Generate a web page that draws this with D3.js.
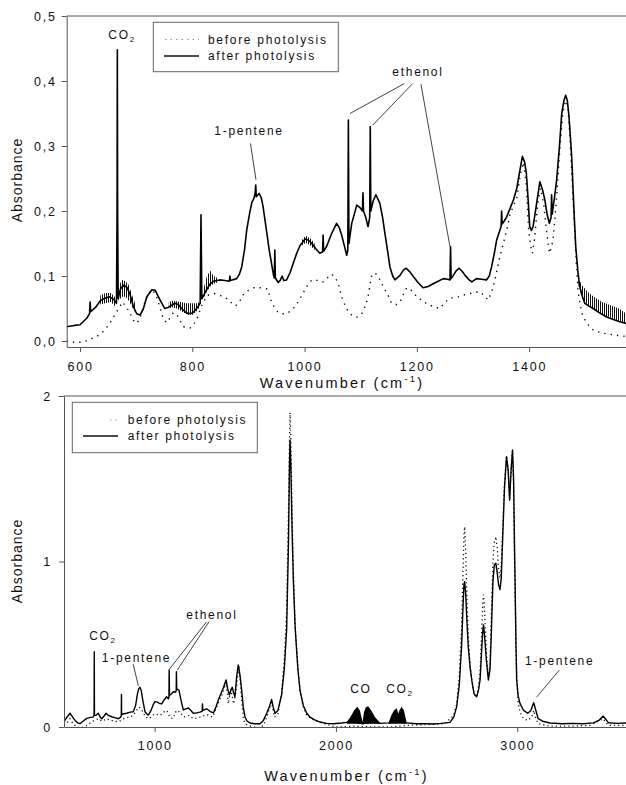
<!DOCTYPE html>
<html>
<head>
<meta charset="utf-8">
<script src="https://cdn.jsdelivr.net/npm/d3@7"></script>
<style>
  body { margin: 0; background: #fff; }
  svg text { font-family: "Liberation Sans", Arial, sans-serif; fill: #111; }
</style>
</head>
<body>
<svg id="canvas" width="626" height="785"></svg>
<script>
// ---- top panel (600-1570 cm-1) ----
const topTicksX = [600, 800, 1000, 1200, 1400];
const topTicksY = [0, 0.1, 0.2, 0.3, 0.4, 0.5];

// after photolysis [wavenumber, absorbance]
const topAfter = [[576,0.022],[590,0.024],[600,0.025],[612,0.035],[617,0.042],[618,0.06],[619,0.045],[628,0.052],[636,0.062],[645,0.066],[653,0.068],[660,0.064],[665,0.058],[666,0.2],[666.5,0.448],[667,0.2],[668,0.065],[672,0.08],[678,0.086],[684,0.082],[689,0.072],[695,0.053],[701,0.042],[707,0.04],[713,0.05],[719,0.068],[728,0.079],[734,0.078],[742,0.064],[751,0.05],[758,0.052],[763,0.055],[769,0.058],[775,0.056],[781,0.05],[787,0.045],[793,0.042],[800,0.043],[805,0.047],[811,0.054],[814,0.058],[815.5,0.194],[817,0.065],[823,0.075],[831,0.087],[838,0.092],[844,0.093],[849,0.094],[858,0.093],[866,0.092],[867,0.1],[868,0.093],[879,0.096],[884,0.103],[888,0.114],[893,0.14],[897,0.171],[902,0.196],[906,0.213],[910,0.22],[912,0.228],[913,0.24],[914,0.222],[919,0.227],[923,0.22],[926,0.207],[932,0.171],[937,0.14],[941,0.12],[945,0.1],[946,0.097],[947,0.14],[948,0.097],[953,0.09],[957,0.094],[960,0.1],[963,0.093],[968,0.094],[974,0.105],[980,0.12],[986,0.135],[992,0.147],[1001,0.157],[1007,0.155],[1013,0.15],[1020,0.142],[1027,0.135],[1032,0.137],[1033,0.163],[1034,0.138],[1039,0.145],[1048,0.165],[1057,0.181],[1062,0.174],[1066,0.163],[1071,0.146],[1075,0.132],[1077,0.14],[1078,0.34],[1079,0.15],[1084,0.181],[1093,0.209],[1099,0.205],[1103,0.2],[1104,0.228],[1105,0.2],[1109,0.19],[1113,0.176],[1116,0.19],[1117,0.33],[1118,0.2],[1122,0.215],[1127,0.225],[1134,0.212],[1139,0.19],[1143,0.166],[1148,0.138],[1152,0.114],[1157,0.1],[1161,0.094],[1170,0.101],[1176,0.109],[1181,0.112],[1188,0.106],[1194,0.099],[1202,0.09],[1211,0.082],[1220,0.084],[1229,0.088],[1238,0.092],[1247,0.096],[1255,0.095],[1259,0.094],[1260,0.145],[1261,0.096],[1265,0.101],[1270,0.108],[1275,0.112],[1281,0.107],[1286,0.101],[1292,0.095],[1298,0.091],[1306,0.096],[1315,0.095],[1324,0.094],[1329,0.1],[1333,0.114],[1338,0.135],[1342,0.155],[1347,0.168],[1350,0.176],[1351,0.2],[1352,0.18],[1356,0.185],[1360,0.191],[1366,0.204],[1372,0.217],[1378,0.235],[1383,0.26],[1388,0.284],[1392,0.275],[1395,0.258],[1398,0.22],[1401,0.176],[1404,0.17],[1407,0.176],[1413,0.21],[1419,0.245],[1424,0.232],[1428,0.217],[1432,0.195],[1436,0.181],[1439,0.19],[1440,0.225],[1441,0.195],[1445,0.22],[1449,0.248],[1454,0.3],[1458,0.35],[1462,0.37],[1465,0.378],[1468,0.37],[1471,0.345],[1473,0.32],[1476,0.28],[1478,0.237],[1481,0.18],[1483,0.145],[1487,0.105],[1490,0.084],[1495,0.068],[1499,0.058],[1506,0.054],[1514,0.05],[1526,0.043],[1538,0.037],[1550,0.033],[1560,0.03],[1573,0.027]];

// rotational fine structure in the after spectrum [wavenumber, low, high]
const topBands = [
  [[636,0.056,0.07],[645,0.058,0.074],[655,0.06,0.074],[664,0.052,0.066]],
  [[669,0.062,0.085],[675,0.068,0.094],[681,0.068,0.092],[687,0.062,0.086],[693,0.052,0.07],[698,0.045,0.058]],
  [[758,0.05,0.06],[765,0.052,0.062],[772,0.05,0.061],[780,0.046,0.06],[790,0.041,0.058],[800,0.04,0.058],[808,0.046,0.058],[813,0.052,0.06]],
  [[820,0.066,0.08],[826,0.076,0.1],[832,0.084,0.108],[838,0.088,0.1],[845,0.09,0.097]],
  [[995,0.147,0.155],[1002,0.151,0.162],[1010,0.147,0.158],[1018,0.14,0.15]],
  [[1488,0.085,0.095],[1495,0.065,0.085],[1505,0.054,0.075],[1515,0.048,0.068],[1530,0.041,0.06],[1545,0.036,0.055],[1560,0.03,0.05],[1573,0.027,0.042]]
];

// before photolysis
const topBefore = [[576,0.0],[590,-0.002],[600,-0.002],[610,0.0],[618,0.003],[630,0.007],[642,0.015],[653,0.027],[665,0.045],[676,0.06],[688,0.045],[695,0.032],[701,0.027],[707,0.035],[713,0.053],[720,0.07],[728,0.079],[735,0.072],[742,0.053],[748,0.035],[754,0.028],[760,0.035],[766,0.043],[771,0.042],[775,0.037],[784,0.022],[796,0.02],[802,0.025],[808,0.033],[817,0.055],[826,0.07],[840,0.073],[850,0.07],[859,0.067],[868,0.06],[877,0.054],[885,0.062],[892,0.073],[900,0.078],[910,0.082],[920,0.082],[934,0.08],[940,0.063],[946,0.052],[952,0.045],[960,0.042],[967,0.042],[975,0.046],[980,0.05],[986,0.057],[992,0.065],[1000,0.078],[1007,0.088],[1013,0.094],[1020,0.094],[1026,0.092],[1033,0.091],[1040,0.097],[1048,0.103],[1055,0.097],[1060,0.089],[1066,0.068],[1072,0.055],[1078,0.045],[1086,0.038],[1093,0.037],[1100,0.04],[1104,0.045],[1110,0.058],[1113,0.068],[1119,0.099],[1125,0.105],[1131,0.1],[1140,0.084],[1149,0.07],[1155,0.058],[1163,0.056],[1170,0.06],[1176,0.072],[1182,0.082],[1190,0.078],[1200,0.068],[1210,0.062],[1220,0.056],[1230,0.053],[1241,0.05],[1250,0.06],[1260,0.066],[1271,0.067],[1280,0.07],[1289,0.072],[1300,0.074],[1312,0.076],[1320,0.07],[1327,0.063],[1333,0.075],[1339,0.094],[1348,0.13],[1354,0.15],[1360,0.171],[1366,0.195],[1372,0.208],[1378,0.22],[1384,0.255],[1390,0.275],[1395,0.24],[1399,0.171],[1403,0.145],[1406,0.135],[1410,0.16],[1415,0.21],[1420,0.235],[1426,0.21],[1431,0.17],[1436,0.135],[1440,0.145],[1443,0.16],[1446,0.19],[1449,0.222],[1455,0.3],[1460,0.35],[1465,0.37],[1469,0.36],[1473,0.31],[1477,0.24],[1481,0.171],[1484,0.12],[1487,0.078],[1491,0.055],[1496,0.037],[1505,0.025],[1514,0.017],[1526,0.013],[1538,0.011],[1555,0.009],[1573,0.007]];

// labels: text, subscript, wavenumber, absorbance; leaders as [[wn,a],[wn,a]]
const topLabels = [
  {text: "CO", sub: "2", wn: 675, a: 0.465},
  {text: "1-pentene", sub: "", wn: 901, a: 0.317},
  {text: "ethenol", sub: "", wn: 1202, a: 0.408}
];
const topLeaders = [
  [[903.6,0.304],[913.5,0.248]],
  [[1177.6,0.396],[1080.9,0.350]],
  [[1192.5,0.396],[1121.3,0.332]],
  [[1207.3,0.395],[1259,0.145]]
];

// ---- bottom panel (500-3600 cm-1) ----
const botTicksX = [1000, 2000, 3000];
const botTicksY = [0, 1, 2];

const botAfter = [[500,0.03],[510,0.05],[533,0.083],[548,0.06],[561,0.04],[575,0.025],[588,0.02],[605,0.035],[625,0.052],[645,0.058],[660,0.06],[666,0.07],[667,0.455],[668,0.07],[675,0.07],[689,0.083],[700,0.06],[708,0.05],[720,0.065],[732,0.083],[745,0.07],[763,0.062],[780,0.057],[800,0.05],[812,0.06],[816,0.07],[817,0.197],[818,0.075],[830,0.08],[846,0.083],[865,0.09],[882,0.092],[895,0.13],[905,0.2],[912,0.23],[919,0.24],[926,0.22],[935,0.16],[947,0.092],[956,0.08],[965,0.072],[980,0.1],[992,0.135],[1002,0.153],[1015,0.15],[1027,0.142],[1039,0.14],[1050,0.16],[1066,0.183],[1075,0.17],[1079,0.18],[1080,0.344],[1082,0.19],[1092,0.2],[1103,0.213],[1115,0.21],[1119,0.22],[1120,0.334],[1122,0.23],[1134,0.223],[1146,0.16],[1158,0.103],[1172,0.11],[1186,0.115],[1200,0.1],[1213,0.083],[1230,0.085],[1250,0.09],[1262,0.095],[1264,0.14],[1266,0.1],[1287,0.11],[1305,0.095],[1324,0.085],[1338,0.12],[1351,0.163],[1365,0.2],[1380,0.24],[1394,0.284],[1403,0.23],[1412,0.193],[1420,0.22],[1428,0.24],[1435,0.21],[1443,0.183],[1452,0.3],[1461,0.375],[1470,0.32],[1480,0.223],[1489,0.12],[1498,0.062],[1510,0.035],[1526,0.024],[1550,0.02],[1581,0.02],[1600,0.04],[1618,0.083],[1632,0.12],[1645,0.167],[1654,0.12],[1664,0.083],[1680,0.1],[1700,0.193],[1715,0.35],[1728,0.586],[1738,1.1],[1744,1.6],[1747,1.734],[1751,1.6],[1758,1.2],[1765,0.89],[1775,0.6],[1790,0.35],[1802,0.22],[1820,0.13],[1839,0.083],[1857,0.06],[1880,0.045],[1912,0.03],[1950,0.022],[1985,0.02],[2030,0.024],[2059,0.028],[2100,0.03],[2147,0.02],[2200,0.03],[2243,0.022],[2290,0.025],[2335,0.03],[2390,0.025],[2445,0.02],[2500,0.02],[2537,0.018],[2580,0.022],[2629,0.028],[2650,0.06],[2666,0.123],[2680,0.25],[2693,0.485],[2700,0.7],[2706,0.86],[2710,0.878],[2716,0.8],[2722,0.65],[2730,0.485],[2740,0.36],[2749,0.284],[2762,0.2],[2776,0.183],[2786,0.22],[2795,0.284],[2803,0.45],[2810,0.58],[2814,0.616],[2820,0.55],[2830,0.4],[2841,0.284],[2850,0.35],[2858,0.6],[2866,0.88],[2874,0.98],[2882,0.99],[2890,0.93],[2897,0.86],[2905,0.83],[2912,0.9],[2920,1.15],[2930,1.45],[2941,1.633],[2950,1.55],[2958,1.37],[2966,1.55],[2974,1.674],[2980,1.5],[2985,1.1],[2988,0.89],[2993,0.5],[2997,0.284],[3005,0.19],[3015,0.143],[3035,0.1],[3058,0.083],[3075,0.1],[3085,0.13],[3091,0.147],[3100,0.11],[3116,0.05],[3140,0.035],[3181,0.024],[3250,0.02],[3300,0.022],[3364,0.02],[3420,0.025],[3450,0.04],[3474,0.066],[3490,0.045],[3502,0.026],[3550,0.022],[3600,0.024]];

const botBefore = [[500,0.01],[520,0.03],[533,0.05],[550,0.02],[570,0.0],[590,-0.005],[610,0.0],[640,0.02],[667,0.04],[690,0.05],[710,0.035],[735,0.05],[760,0.04],[800,0.03],[830,0.05],[860,0.06],[882,0.07],[900,0.1],[915,0.12],[930,0.1],[950,0.06],[970,0.05],[1000,0.08],[1030,0.07],[1050,0.09],[1066,0.1],[1085,0.06],[1100,0.05],[1120,0.1],[1140,0.09],[1160,0.06],[1190,0.07],[1215,0.05],[1250,0.06],[1290,0.075],[1320,0.06],[1345,0.13],[1370,0.19],[1394,0.27],[1406,0.14],[1420,0.23],[1436,0.14],[1449,0.22],[1465,0.37],[1480,0.17],[1490,0.04],[1510,0.01],[1550,0.0],[1581,-0.005],[1600,0.01],[1618,0.06],[1645,0.15],[1660,0.06],[1680,0.08],[1700,0.2],[1715,0.4],[1728,0.7],[1738,1.3],[1744,1.75],[1747,1.9],[1751,1.75],[1758,1.3],[1765,0.95],[1775,0.62],[1790,0.36],[1802,0.22],[1820,0.12],[1839,0.07],[1880,0.04],[1950,0.015],[2000,0.0],[2100,0.005],[2200,0.0],[2300,0.0],[2400,0.01],[2500,0.015],[2600,0.02],[2650,0.07],[2666,0.14],[2680,0.3],[2693,0.6],[2700,0.9],[2706,1.15],[2710,1.21],[2716,1.05],[2722,0.8],[2730,0.55],[2740,0.38],[2749,0.29],[2762,0.2],[2776,0.18],[2786,0.24],[2795,0.33],[2803,0.55],[2810,0.75],[2814,0.8],[2820,0.7],[2830,0.45],[2841,0.3],[2850,0.38],[2858,0.7],[2866,1.0],[2874,1.12],[2882,1.15],[2890,1.08],[2897,0.96],[2905,0.9],[2912,0.98],[2920,1.2],[2930,1.48],[2941,1.64],[2950,1.56],[2958,1.38],[2966,1.56],[2974,1.67],[2980,1.45],[2985,1.0],[2990,0.7],[2997,0.3],[3005,0.15],[3015,0.09],[3035,0.05],[3058,0.04],[3080,0.06],[3091,0.1],[3100,0.06],[3116,0.02],[3181,0.005],[3300,0.005],[3400,0.01],[3474,0.05],[3502,0.01],[3600,0.01]];

// CO and CO2 rotational bands (filled envelopes) [wavenumber, low, high]
const botBands = [
  [[2059,0.02,0.028],[2080,0.02,0.06],[2100,0.02,0.1],[2118,0.02,0.123],[2132,0.02,0.1],[2147,0.02,0.03],[2155,0.02,0.09],[2165,0.02,0.12],[2178,0.02,0.125],[2195,0.02,0.1],[2215,0.02,0.06],[2243,0.02,0.025]],
  [[2290,0.02,0.025],[2305,0.02,0.07],[2320,0.02,0.1],[2335,0.02,0.113],[2345,0.02,0.08],[2350,0.02,0.1],[2362,0.02,0.123],[2375,0.02,0.1],[2390,0.02,0.025]]
];

const botLabels = [
  {text: "CO", sub: "2", wn: 715, a: 0.526},
  {text: "1-pentene", sub: "", wn: 900, a: 0.391},
  {text: "ethenol", sub: "", wn: 1316, a: 0.651},
  {text: "CO", sub: "", wn: 2138, a: 0.207},
  {text: "CO", sub: "2", wn: 2353, a: 0.207},
  {text: "1-pentene", sub: "", wn: 3234, a: 0.375}
];
const botLeaders = [
  [[882,0.379],[910,0.248]],
  [[1287,0.636],[1081,0.349]],
  [[1300,0.636],[1125,0.344]],
  [[3232,0.344],[3107,0.18]]
];

const legendNames = ["before photolysis", "after photolysis"];

// ---------------------------------------------------------------
const svg = d3.select("#canvas");
const defs = svg.append("defs");
defs.append("pattern")
    .attr("id", "hatch")
    .attr("patternUnits", "userSpaceOnUse")
    .attr("width", 2).attr("height", 4)
  .append("rect").attr("width", 1).attr("height", 4).attr("fill", "#111");

const comma = v => d3.format(".1f")(v).replace(".", ",");

function drawPanel(p) {
    const g = svg.append("g");
    const x = p.x, y = p.y;
    const [x0, x1] = x.range();
    const [yb, yt] = y.range();

    defs.append("clipPath").attr("id", p.id)
      .append("rect").attr("x", x0).attr("y", yt).attr("width", x1 - x0).attr("height", yb - yt);

    // top border of the frame
    g.append("line").attr("x1", x0).attr("x2", x1).attr("y1", yt).attr("y2", yt)
        .attr("stroke", "#555");

    const plot = g.append("g").attr("clip-path", `url(#${p.id})`);

    const line = d3.line().x(d => x(d[0])).y(d => y(d[1]));
    const area = d3.area().x(d => x(d[0])).y0(d => y(d[1])).y1(d => y(d[2]));

    plot.append("path").datum(p.before)
        .attr("d", line).attr("fill", "none")
        .attr("stroke", "#111").attr("stroke-width", p.dotW)
        .attr("stroke-dasharray", p.dots);

    plot.selectAll(".band").data(p.bands).join("path")
        .attr("class", "band")
        .attr("d", area)
        .attr("fill", p.bandFill);

    plot.append("path").datum(p.after)
        .attr("d", line).attr("fill", "none")
        .attr("stroke", "#000").attr("stroke-width", p.lineW)
        .attr("stroke-linejoin", "round");

    // axes
    const ax = g.append("g").attr("transform", `translate(0,${yb})`)
        .call(d3.axisBottom(x).tickValues(p.ticksX).tickFormat(d3.format("d"))
            .tickSize(5).tickSizeOuter(0).tickPadding(p.padX));
    const ay = g.append("g").attr("transform", `translate(${x0},0)`)
        .call(d3.axisLeft(y).tickValues(p.ticksY).tickFormat(p.fmtY).tickSize(5).tickSizeOuter(0).tickPadding(p.padY));
    [ax, ay].forEach(a => {
        a.select(".domain").attr("stroke", "#555");
        a.selectAll(".tick line").attr("stroke", "#555");
        a.selectAll("text").attr("font-family", "Liberation Sans, Arial, sans-serif")
            .attr("font-size", 12.5).attr("letter-spacing", "1.8px").attr("fill", "#111");
    });

    // axis titles
    const xt = g.append("text")
        .attr("x", p.xTitleX).attr("y", p.xTitleY)
        .attr("text-anchor", "middle")
        .attr("font-size", 14.5).attr("letter-spacing", "2.2px");
    xt.append("tspan").text("Wavenumber (cm");
    xt.append("tspan").attr("dy", -6).attr("font-size", 9.5).text("-1");
    xt.append("tspan").attr("dy", 6).text(")");

    g.append("text")
        .attr("transform", `translate(22,${p.yTitleY}) rotate(-90)`)
        .attr("text-anchor", "middle")
        .attr("font-size", 14).attr("letter-spacing", "1px")
        .text("Absorbance");

    // labels
    g.selectAll(".lbl").data(p.labels).join("text")
        .attr("class", "lbl")
        .attr("x", d => x(d.wn)).attr("y", d => y(d.a))
        .attr("text-anchor", "middle")
        .attr("font-size", 12).attr("letter-spacing", "1.7px")
        .each(function(d) {
            const t = d3.select(this);
            t.append("tspan").text(d.text);
            if (d.sub) t.append("tspan").attr("dy", 3).attr("font-size", 8).text(d.sub);
        });

    g.selectAll(".leader").data(p.leaders).join("line")
        .attr("class", "leader")
        .attr("x1", d => x(d[0][0])).attr("y1", d => y(d[0][1]))
        .attr("x2", d => x(d[1][0])).attr("y2", d => y(d[1][1]))
        .attr("stroke", "#111").attr("stroke-width", 0.8);

    // legend
    const L = p.legend;
    const lg = g.append("g");
    lg.append("rect").attr("x", L.x).attr("y", L.y).attr("width", L.w).attr("height", L.h)
        .attr("fill", "#fff").attr("stroke", "#666");
    lg.append("line").attr("x1", L.dotX1).attr("x2", L.lineX2)
        .attr("y1", L.row1 - 4).attr("y2", L.row1 - 4)
        .attr("stroke", "#999").attr("stroke-width", 1.2).attr("stroke-dasharray", "1.5,4");
    lg.append("line").attr("x1", L.lineX1).attr("x2", L.lineX2)
        .attr("y1", L.row2 - 4).attr("y2", L.row2 - 4)
        .attr("stroke", "#111").attr("stroke-width", 1.3);
    lg.selectAll(".lt").data(legendNames).join("text")
        .attr("class", "lt")
        .attr("x", L.textX).attr("y", (d, i) => i ? L.row2 : L.row1)
        .attr("font-size", 12).attr("letter-spacing", "1.7px")
        .text(d => d);
}

drawPanel({
    id: "clipTop",
    x: d3.scaleLinear().domain([576.3, 1572.5]).range([66.7, 626]),
    y: d3.scaleLinear().domain([-0.0092, 0.5]).range([347, 16]),
    before: topBefore, after: topAfter, bands: topBands, bandFill: "url(#hatch)",
    dots: "1.4,5", dotW: 1.4, lineW: 1.6,
    ticksX: topTicksX, ticksY: topTicksY, fmtY: comma,
    padX: 10, padY: 5,
    xTitleX: 342, xTitleY: 388, yTitleY: 180,
    labels: topLabels, leaders: topLeaders,
    legend: {x: 153.3, y: 22.3, w: 185, h: 49.4, row1: 43.5, row2: 60,
             dotX1: 165, lineX1: 164, lineX2: 199, textX: 208}
});

drawPanel({
    id: "clipBot",
    x: d3.scaleLinear().domain([500, 3600]).range([64, 626]),
    y: d3.scaleLinear().domain([0, 2]).range([727, 396]),
    before: botBefore, after: botAfter, bands: botBands, bandFill: "#000",
    dots: "1.2,3", dotW: 1.3, lineW: 1.4,
    ticksX: botTicksX, ticksY: botTicksY, fmtY: d3.format("d"),
    padX: 9, padY: 7,
    xTitleX: 346.5, xTitleY: 781, yTitleY: 561,
    labels: botLabels, leaders: botLeaders,
    legend: {x: 72.3, y: 402.3, w: 185, h: 50.4, row1: 424, row2: 440,
             dotX1: 110, lineX1: 83, lineX2: 118, textX: 127.7}
});
</script>
</body>
</html>
